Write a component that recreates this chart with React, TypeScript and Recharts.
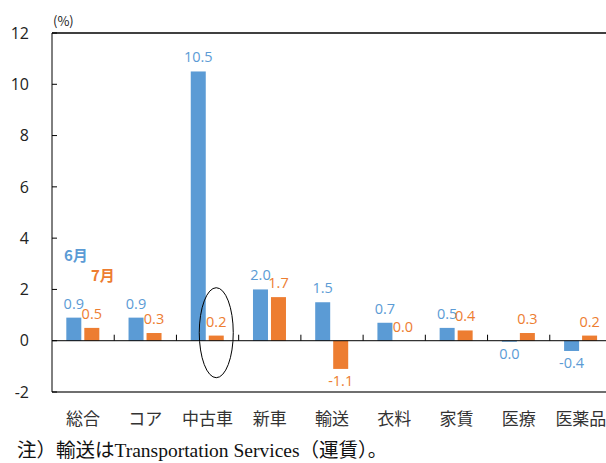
import React from 'react';
import { BarChart, Bar, XAxis, YAxis, ReferenceLine, LabelList, Legend } from 'recharts';

const categories = ['総合', 'コア', '中古車', '新車', '輸送', '衣料', '家賃', '医療', '医薬品'];
const june = [0.9, 0.9, 10.5, 2.0, 1.5, 0.7, 0.5, -0.04, -0.4];
const july = [0.5, 0.3, 0.2, 1.7, -1.1, 0.0, 0.4, 0.3, 0.2];
const yTicks = [-2, 0, 2, 4, 6, 8, 10, 12];
const highlighted = '中古車';
const seriesNames = ['6月', '7月'];
const unitLabel = '(%)';
const footnote = '注）輸送はTransportation Services（運賃）。';

const BLUE = '#5B9BD5';
const ORANGE = '#ED7D31';
const NUM_FONT = '"Open Sans", "Noto Sans", sans-serif';
const JP_FONT = '"Noto Sans CJK JP", "Noto Sans", sans-serif';

const data = categories.map((name, i) => ({ name, june: june[i], july: july[i] }));

const fmt = (v: number) => (Math.abs(v) < 0.05 ? '0.0' : v.toFixed(1));

const YTick = (props: any) => {
  const { x, y, payload } = props;
  return (
    <g>
      <text x={x} y={y} dy="0.36em" textAnchor="end" fontSize={16} fontFamily={NUM_FONT} fill="#222">
        {payload.value}
      </text>
      <line x1={x + 23} x2={x + 28} y1={y} y2={y} stroke="#000" strokeWidth={1} />
    </g>
  );
};

const ZeroLine = (props: any) => {
  const { x1, x2, y1 } = props;
  const n = categories.length;
  const step = (x2 - x1) / n;
  const ticks = [];
  for (let i = 1; i < n; i++) {
    const tx = x1 + i * step;
    ticks.push(<line key={i} x1={tx} x2={tx} y1={y1} y2={y1 - 6} stroke="#000" strokeWidth={1} />);
  }
  return (
    <g>
      <line x1={x1} x2={x2} y1={y1} y2={y1} stroke="#000" strokeWidth={1} />
      {ticks}
    </g>
  );
};

const makeShape = (fill: string, withMark: boolean) => (props: any) => {
  const { x, y, width, height, payload } = props;
  const top = Math.min(y, y + height);
  const h = Math.abs(height);
  const zeroY = height >= 0 ? y + height : y;
  return (
    <g>
      <rect x={x} y={top} width={width} height={h} fill={fill} />
      {withMark && payload && payload.name === highlighted && (
        <ellipse cx={x + width / 2} cy={zeroY - 8} rx={17} ry={45} fill="none" stroke="#000" strokeWidth={1} />
      )}
    </g>
  );
};

const makeLabel = (color: string) => (props: any) => {
  const { x, y, width, height, value } = props;
  const v = Number(value);
  const top = Math.min(y, y + height);
  const bottom = Math.max(y, y + height);
  const ty = v < 0 ? bottom + 17 : top - 9;
  return (
    <text x={x + width / 2} y={ty} textAnchor="middle" fontSize={14.5} fontFamily={NUM_FONT} fill={color}>
      {fmt(v)}
    </text>
  );
};

const LegendContent = (props: any) => {
  const { payload } = props;
  return (
    <div style={{ position: 'relative', fontFamily: JP_FONT, fontWeight: 700, fontSize: 15, lineHeight: '22px' }}>
      {(payload || []).map((e: any, i: number) => (
        <div key={i} style={{ position: 'absolute', left: i * 27, top: i * 20, color: e.color, whiteSpace: 'nowrap' }}>
          {e.value}
        </div>
      ))}
    </div>
  );
};

export default function App() {
  return (
    <div style={{ position: 'fixed', left: 0, top: 0, width: 606, height: 463, overflow: 'hidden', background: '#fff' }}>
      <BarChart
        width={616}
        height={463}
        data={data}
        margin={{ top: 33, right: 4, left: 0, bottom: 41 }}
        barCategoryGap="23%"
        barGap={3}
      >
        <XAxis
          dataKey="name"
          height={30}
          tickLine={false}
          tickSize={0}
          tickMargin={21}
          axisLine={{ stroke: '#6f6f6f', strokeWidth: 2 }}
          tick={{ fontSize: 17, fontFamily: JP_FONT, fill: '#333' }}
          interval={0}
        />
        <YAxis
          width={52}
          domain={[-2, 12]}
          ticks={yTicks}
          allowDataOverflow
          tickLine={false}
          tickSize={0}
          tickMargin={23}
          axisLine={{ stroke: '#000', strokeWidth: 1 }}
          tick={<YTick />}
        />
        <ReferenceLine y={12} stroke="#404040" strokeWidth={2} />
        <Legend
          layout="horizontal"
          verticalAlign="middle"
          align="center"
          content={<LegendContent />}
          wrapperStyle={{ left: 64, top: 244, width: 60, height: 50 }}
        />
        <Bar dataKey="june" name={seriesNames[0]} fill={BLUE} isAnimationActive={false} shape={makeShape(BLUE, false)}>
          <LabelList dataKey="june" content={makeLabel(BLUE)} />
        </Bar>
        <Bar dataKey="july" name={seriesNames[1]} fill={ORANGE} isAnimationActive={false} shape={makeShape(ORANGE, true)}>
          <LabelList dataKey="july" content={makeLabel(ORANGE)} />
        </Bar>
        <ReferenceLine y={0} shape={<ZeroLine />} />
      </BarChart>
      <div style={{ position: 'absolute', left: 53, top: 13, fontSize: 13, lineHeight: '15px', fontFamily: JP_FONT, color: '#222' }}>
        {unitLabel}
      </div>
      <div style={{ position: 'absolute', left: 17, top: 440, fontSize: 19.5, lineHeight: '21px', fontFamily: '"Liberation Serif", "Noto Sans CJK JP", serif', color: '#111', whiteSpace: 'nowrap' }}>
        {footnote}
      </div>
    </div>
  );
}
